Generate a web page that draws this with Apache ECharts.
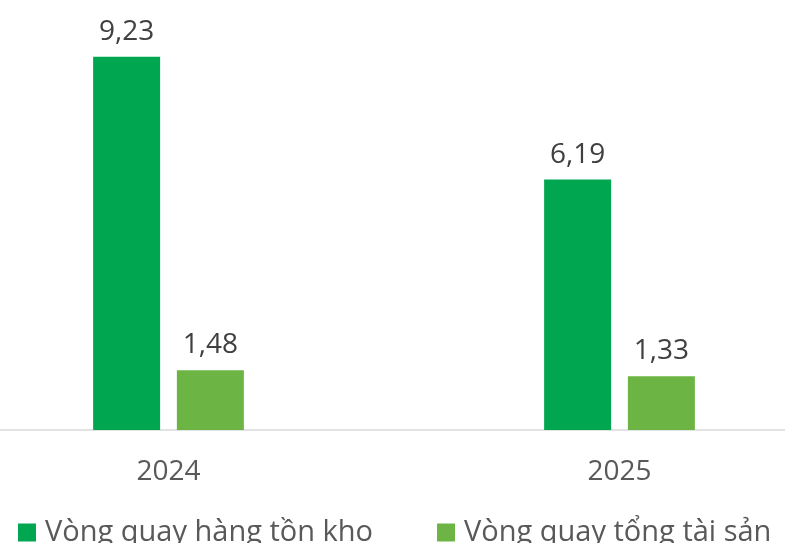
<!DOCTYPE html>
<html>
<head>
<meta charset="utf-8">
<script src="https://cdn.jsdelivr.net/npm/echarts@6/dist/echarts.min.js"></script>
<style>
  html, body { margin: 0; padding: 0; background: #fff; overflow: hidden; }
  #wrap { width: 785px; height: 543px; overflow: hidden; position: relative; }
  /* plot area runs past both edges in the original, so the canvas is wider and shifted */
  #chart { width: 902px; height: 543px; position: absolute; left: -57px; top: 0; }
</style>
</head>
<body>
<div id="wrap"><div id="chart"></div></div>
<script>
var categories = ['2024', '2025'];
var inventoryTurnover = [9.23, 6.19];
var assetTurnover = [1.48, 1.33];
var seriesNames = ['Vòng quay hàng tồn kho', 'Vòng quay tổng tài sản'];

var chart = echarts.init(document.getElementById('chart'));

function commaLabel(p) {
  return p.value.toFixed(2).replace('.', ',');
}

var option = {
  animation: false,
  textStyle: { fontFamily: 'Open Sans' },
  grid: {
    left: 0,
    right: 0,
    top: 0,
    bottom: 113,
    containLabel: false
  },
  legend: {
    left: 70,
    top: 513,
    icon: 'rect',
    itemWidth: 18,
    itemHeight: 18,
    itemGap: 64,
    textStyle: {
      fontSize: 29,
      color: '#595959',
      fontFamily: 'Open Sans',
      padding: [0, 0, 0, 4]
    },
    data: seriesNames
  },
  xAxis: {
    type: 'category',
    data: categories,
    axisLine: { lineStyle: { color: '#d9d9d9', width: 1.5 } },
    axisTick: { show: false },
    axisLabel: { fontSize: 28, color: '#595959', margin: 28 }
  },
  yAxis: {
    type: 'value',
    min: 0,
    max: 10.63,
    show: false,
    splitLine: { show: false }
  },
  series: [
    {
      name: seriesNames[0],
      type: 'bar',
      data: inventoryTurnover,
      barWidth: 67,
      barGap: '25%',
      itemStyle: { color: '#00a650' },
      label: {
        show: true,
        position: 'top',
        distance: 11,
        fontSize: 28,
        color: '#404040',
        formatter: commaLabel
      }
    },
    {
      name: seriesNames[1],
      type: 'bar',
      data: assetTurnover,
      barWidth: 67,
      barGap: '25%',
      itemStyle: { color: '#6cb545' },
      label: {
        show: true,
        position: 'top',
        distance: 11,
        fontSize: 28,
        color: '#404040',
        formatter: commaLabel
      }
    }
  ]
};

chart.setOption(option);
window.addEventListener('resize', function () {
  chart.resize();
});
</script>
</body>
</html>
